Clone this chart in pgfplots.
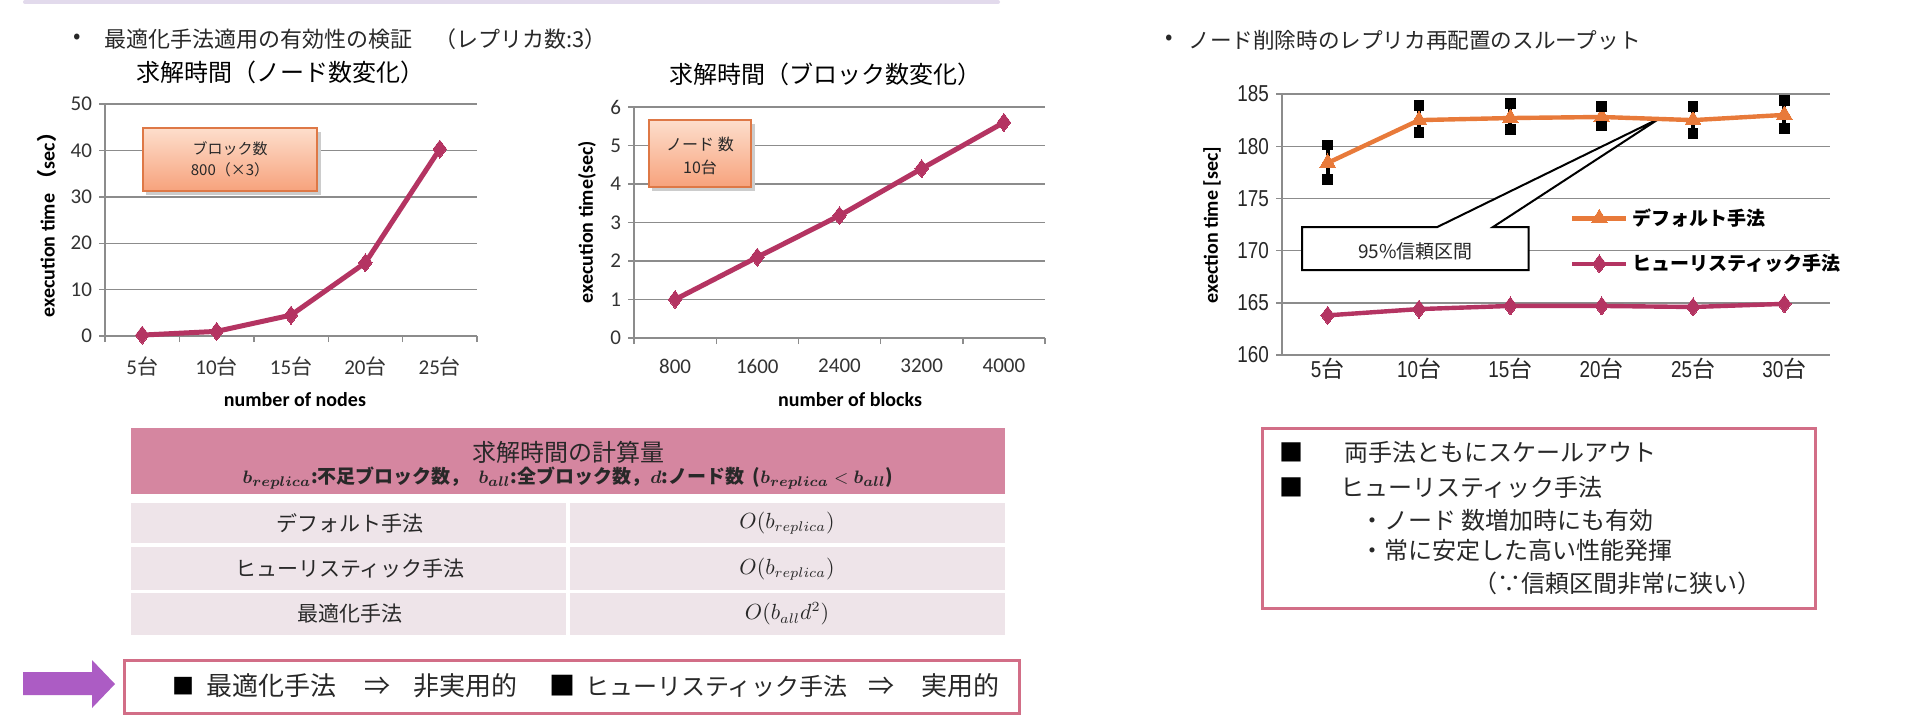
\documentclass[border=0pt]{standalone}
\usepackage{pgfplots}
\pgfplotsset{compat=1.18}
\usepackage{fontspec}
\usepackage{bm}
\setmainfont{Noto Sans CJK JP}
\newfontfamily\jp{Noto Sans CJK JP}
\newfontfamily\calib{Carlito}
\newfontfamily\nar[FakeStretch=0.82]{Liberation Sans}
\newcommand\dai{{\jp 台}}
\newcommand\fs[1]{\fontsize{#1}{#1}\selectfont}

\definecolor{gridc}{RGB}{140,140,140}
\definecolor{lineM}{RGB}{180,52,98}
\definecolor{lineO}{RGB}{232,122,58}
\definecolor{boxTop}{RGB}{253,222,204}
\definecolor{boxBot}{RGB}{247,162,124}
\definecolor{boxBorder}{RGB}{222,120,70}
\definecolor{hdr}{RGB}{213,134,160}
\definecolor{rowc}{RGB}{238,228,233}
\definecolor{pinkB}{RGB}{210,110,135}
\definecolor{arrowc}{RGB}{172,92,196}
\definecolor{txt}{RGB}{40,40,40}

\pgfplotsset{
 excel/.style={
  scale only axis, anchor=south west,
  axis x line*=bottom, axis y line*=left,
  axis line style={gridc, line width=0.7pt, -},
  ymajorgrids, grid style={gridc, line width=0.7pt},
  tick align=outside, major tick length=3pt,
  ytick style={gridc, line width=0.7pt},
  xtick style={gridc, line width=0.7pt},
  /pgf/number format/assume math mode=true,
  clip=false,
 }
}

% default method: mean
\pgfplotstableread{
x y
0 178.4
1 182.5
2 182.7
3 182.8
4 182.5
5 183.0
}\defaultdata
% default method: 95% confidence interval bounds
\pgfplotstableread{
x y
0 176.8
0 180.1
nan nan
1 181.3
1 183.9
nan nan
2 181.6
2 184.1
nan nan
3 181.95
3 183.8
nan nan
4 181.2
4 183.8
nan nan
5 181.7
5 184.4
}\cidata

\begin{document}
\begin{tikzpicture}
\path[use as bounding box, fill=white] (0pt,0pt) rectangle (960pt,-360pt);
\begin{scope}[x=0.5pt,y=-0.5pt]
 \draw[line width=2pt, color={rgb,255:red,226;green,218;blue,236}, line cap=round] (25,2) -- (998,2);
\end{scope}

% ---------- Chart 1 ----------
\begin{axis}[excel, at={(52.5pt,-168pt)}, width=186pt, height=116pt,
 xmin=-0.5, xmax=4.5, ymin=0, ymax=50, ytick={0,10,...,50},
 xtick={-0.5,0.5,...,4.5}, xticklabels={},
 extra x ticks={0,1,2,3,4},
 extra x tick labels={5\dai,10\dai,15\dai,20\dai,25\dai},
 extra x tick style={major tick length=0pt},
 ticklabel style={font=\calib\fs{10.5}, text=black!80},
 xticklabel style={yshift=-7pt},
]
\addplot[lineM, line width=2.5pt, mark=diamond*, mark size=4.5pt,
  mark options={fill=lineM, line width=0pt}]
  coordinates {(0,0.2) (1,1.0) (2,4.5) (3,15.8) (4,40.3)};
\end{axis}

% ---------- Chart 2 ----------
\begin{axis}[excel, at={(317pt,-169pt)}, width=205.5pt, height=115.5pt,
 xmin=-0.5, xmax=4.5, ymin=0, ymax=6, ytick={0,1,...,6},
 xtick={-0.5,0.5,...,4.5}, xticklabels={},
 extra x ticks={0,1,2,3,4},
 extra x tick labels={800,1600,2400,3200,4000},
 extra x tick style={major tick length=0pt},
 ticklabel style={font=\calib\fs{10.5}, text=black!80},
 xticklabel style={yshift=-7pt},
]
\addplot[lineM, line width=2.5pt, mark=diamond*, mark size=4.5pt,
  mark options={fill=lineM, line width=0pt}]
  coordinates {(0,1.0) (1,2.1) (2,3.18) (3,4.4) (4,5.6)};
\end{axis}

% ---------- Chart 3 ----------
\begin{axis}[excel, at={(641pt,-177.5pt)}, width=274pt, height=130.5pt,
 xmin=-0.5, xmax=5.5, ymin=160, ymax=185, ytick={160,165,...,185},
 xtick={0,...,5}, xticklabels={5\dai,10\dai,15\dai,20\dai,25\dai,30\dai},
 xtick style={draw=none},
 ticklabel style={font=\nar\fs{11.5}, text=black!85},
 xticklabel style={yshift=5pt},
 unbounded coords=jump,
 legend style={at={(0.525,0.437)}, anchor=west, draw=none, fill=none,
   font=\bfseries\fs{9.5}, row sep=9pt, inner sep=0pt, cells={anchor=west}},
 legend image code/.code={\draw[mark repeat=2, mark phase=2, #1]
   plot coordinates {(0pt,0pt) (13.5pt,0pt) (27pt,0pt)};},
]
\draw[black, line width=1pt, fill=white]
  (axis cs:-0.28,172.26) -- (axis cs:1.20,172.26) -- (axis cs:3.64,182.7)
  -- (axis cs:1.81,172.26) -- (axis cs:2.20,172.26) -- (axis cs:2.20,168.14)
  -- (axis cs:-0.28,168.14) -- cycle;
\node[font=\fs{9.5}, text=txt] at (axis cs:0.96,169.9) {95\%信頼区間};
\addplot[lineO, line width=2.2pt, mark=triangle*, mark size=4.6pt,
  mark options={fill=lineO, draw=lineO, line width=0pt}]
  table[x=x, y=y] {\defaultdata};
\addlegendentry{デフォルト手法}
\addplot[lineM, line width=2.2pt, mark=diamond*, mark size=4.5pt,
  mark options={fill=lineM, line width=0pt}]
  coordinates {(0,163.8) (1,164.4) (2,164.7) (3,164.7) (4,164.6) (5,164.9)};
\addlegendentry{ヒューリスティック手法}
% 95% confidence intervals drawn on top
\addplot[black, line width=2pt, mark=square*, mark size=2.4pt,
  mark options={fill=black, line width=0pt}, forget plot]
  table[x=x, y=y] {\cidata};
\end{axis}

\begin{scope}[x=0.5pt,y=-0.5pt, text=txt]
 % headings
 \node[font=\fs{11}] at (77,39) {•};
 \node[font=\fs{11}, anchor=west, inner sep=0pt] at (104,39) {最適化手法適用の有効性の検証　（レプリカ数:3）};
 \node[font=\fs{11}] at (1169,40) {•};
 \node[font=\fs{10.8}, anchor=west, inner sep=0pt] at (1188,40) {ノード削除時のレプリカ再配置のスループット};
 % titles
 \node[font=\fs{12}, text=black] at (280,72) {求解時間（ノード数変化）};
 \node[font=\fs{12}, text=black] at (825,74) {求解時間（ブロック数変化）};
 % axis labels
 \node[rotate=90, font=\calib\bfseries\fs{10}, text=black] at (47,220) {execution time\ {\jp\bfseries （}sec{\jp\bfseries ）}};
 \node[rotate=90, font=\calib\bfseries\fs{10}, text=black] at (587,222) {execution time(sec)};
 \node[rotate=90, font=\calib\bfseries\fs{10}, text=black] at (1212,225) {exection time [sec]};
 \node[font=\calib\bfseries\fs{10}, text=black] at (295,400) {number of nodes};
 \node[font=\calib\bfseries\fs{10}, text=black] at (850,400) {number of blocks};
 % orange boxes
 \fill[black!20] (146,132) rectangle (321,195);
 \draw[boxBorder, line width=0.8pt, top color=boxTop, bottom color=boxBot] (143,128) rectangle (317,191);
 \node[font=\fs{7.5}] at (230,149) {ブロック数};
 \node[font=\fs{7.5}] at (230,170) {800（×3）};
 \fill[black!20] (652,124) rectangle (755,191);
 \draw[boxBorder, line width=0.8pt, top color=boxTop, bottom color=boxBot] (649,120) rectangle (751,187);
 \node[font=\fs{8}] at (700,144) {ノード 数};
 \node[font=\fs{8}] at (700,167) {10台};
 % table
 \fill[hdr] (131,428) rectangle (1005,494);
 \fill[rowc] (131,503) rectangle (566,543);
 \fill[rowc] (570,503) rectangle (1005,543);
 \fill[rowc] (131,547) rectangle (566,590);
 \fill[rowc] (570,547) rectangle (1005,590);
 \fill[rowc] (131,593) rectangle (566,635);
 \fill[rowc] (570,593) rectangle (1005,635);
 \node[font=\fs{12}] at (568,452) {求解時間の計算量};
 \node[font=\bfseries\fs{9.5}] at (568,478) {$\bm{b_{replica}}$:不足ブロック数，\ \ $\bm{b_{all}}$:全ブロック数，$\bm{d}$:ノード数\ \ ($\bm{b_{replica}}<\bm{b_{all}}$)};
 \node[font=\fs{10.5}] at (350,523) {デフォルト手法};
 \node[font=\fs{10.5}] at (350,569) {ヒューリスティック手法};
 \node[font=\fs{10.5}] at (350,614) {最適化手法};
 \node[font=\fs{10.5}] at (787,523) {$O(b_{replica})$};
 \node[font=\fs{10.5}] at (787,569) {$O(b_{replica})$};
 \node[font=\fs{10.5}] at (787,614) {$O(b_{all}d^2)$};
 % bottom box and arrow
 \fill[arrowc] (23,672) -- (92,672) -- (92,660) -- (115,684) -- (92,708) -- (92,695) -- (23,695) -- cycle;
 \draw[pinkB, line width=1.5pt, fill=white] (124,660) rectangle (1019,713);
 \node[font=\fs{11}, text=black] at (183,686) {■};
 \node[font=\fs{13}, anchor=west, inner sep=0pt] at (206,686) {最適化手法};
 \node[font=\fs{13}] at (377,686) {⇒};
 \node[font=\fs{13}, anchor=west, inner sep=0pt] at (413,686) {非実用的};
 \node[font=\fs{13}, text=black] at (562,686) {■};
 \node[font=\fs{12}, anchor=west, inner sep=0pt] at (585,686) {ヒューリスティック手法};
 \node[font=\fs{13}] at (881,686) {⇒};
 \node[font=\fs{13}, anchor=west, inner sep=0pt] at (921,686) {実用的};
 % right box
 \draw[pinkB, line width=1.5pt, fill=white] (1262,428) rectangle (1815,608);
 \node[font=\fs{12}, text=black] at (1291,452) {■};
 \node[font=\fs{12}, anchor=west, inner sep=0pt] at (1344,452) {両手法ともにスケールアウト};
 \node[font=\fs{12}, text=black] at (1291,487) {■};
 \node[font=\fs{12}, anchor=west, inner sep=0pt] at (1340,487) {ヒューリスティック手法};
 \node[font=\fs{12}, anchor=west, inner sep=0pt] at (1360,520) {・ノード 数増加時にも有効};
 \node[font=\fs{12}, anchor=west, inner sep=0pt] at (1360,550) {・常に安定した高い性能発揮};
 \node[font=\fs{12}, anchor=west, inner sep=0pt] at (1473,583) {（∵信頼区間非常に狭い）};
\end{scope}
\end{tikzpicture}
\end{document}
